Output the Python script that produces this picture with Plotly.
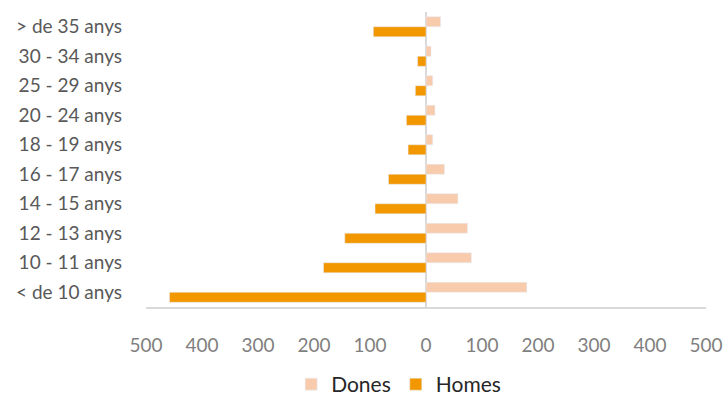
import plotly.graph_objects as go

categories = ["< de 10 anys", "10 - 11 anys", "12 - 13 anys", "14 - 15 anys", "16 - 17 anys",
              "18 - 19 anys", "20 - 24 anys", "25 - 29 anys", "30 - 34 anys", "> de 35 anys"]
dones = [180, 81, 74, 57, 33, 12, 16, 12, 9, 26]
homes = [458, 183, 145, 91, 67, 32, 35, 19, 15, 94]
tick_values = [-500, -400, -300, -200, -100, 0, 100, 200, 300, 400, 500]
tick_labels = [str(abs(v)) for v in tick_values]

font_family = "Lato, 'Open Sans', sans-serif"

fig = go.Figure()
fig.add_trace(go.Bar(
    y=categories, x=[-v for v in homes], name="Homes", orientation="h",
    marker=dict(color="#F29700"), legendrank=2,
    customdata=homes, hovertemplate="%{y}: %{customdata}<extra>Homes</extra>"))
fig.add_trace(go.Bar(
    y=categories, x=dones, name="Dones", orientation="h",
    marker=dict(color="#F8CBAD"), legendrank=1))

fig.update_layout(
    width=726, height=405,
    margin=dict(l=146, r=20, t=12, b=98, autoexpand=False),
    paper_bgcolor="white", plot_bgcolor="white",
    barmode="group", bargap=0.32, bargroupgap=0.0,
    font=dict(family=font_family, size=18, color="#595959"),
    showlegend=True,
    legend=dict(orientation="h", xref="container", x=0.401, xanchor="left",
                yref="container", y=-0.02, yanchor="bottom",
                font=dict(size=21, color="#262626"), itemwidth=30,
                traceorder="normal"),
)
fig.update_xaxes(
    range=[-500, 500], tickvals=tick_values, ticktext=tick_labels,
    showgrid=False, zeroline=True, zerolinecolor="#d9d9d9", zerolinewidth=2,
    showline=True, linecolor="#d9d9d9", linewidth=2, automargin=False,
    ticks="", ticklabelstandoff=20,
    tickfont=dict(size=19, color="#7f7f7f"),
)
fig.update_yaxes(
    categoryorder="array", categoryarray=categories, automargin=False,
    showgrid=False, showline=False, ticks="", ticklabelstandoff=23,
    tickfont=dict(size=19, color="#595959"),
)

fig.write_html("out.html", config={"displayModeBar": False},
               post_script="document.body.style.margin='0';")
